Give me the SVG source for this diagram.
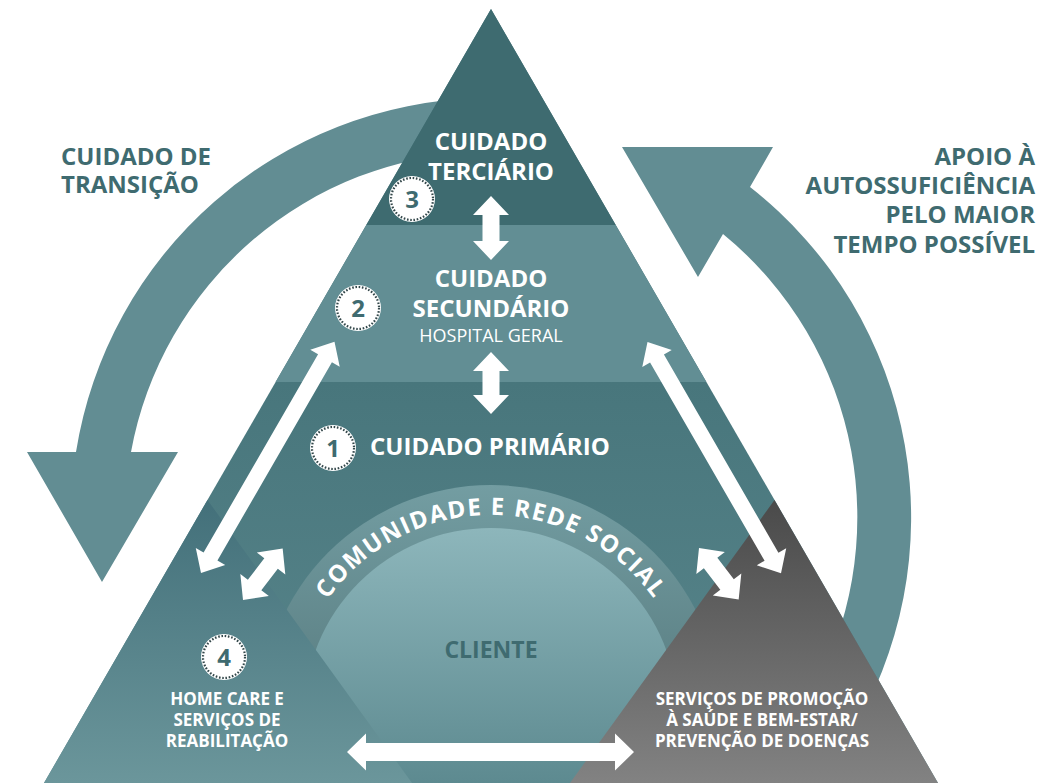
<svg xmlns="http://www.w3.org/2000/svg" width="1061" height="783" viewBox="0 0 1061 783">
<defs>
<style>
.lbl{font-family:"Open Sans","Liberation Sans",sans-serif;font-weight:700;}
.dark{fill:#3f6b70}
.wt{fill:#ffffff}
.big{font-size:24px}
.small{font-size:17px}
.cyc{fill:#628d93}
.wa{fill:#ffffff}
.num{font-family:"Open Sans","Liberation Sans",sans-serif;font-weight:700;font-size:24px;fill:#3f6b70;text-anchor:middle}
.mid{text-anchor:middle}
.end{text-anchor:end}
</style>
<linearGradient id="g1" gradientUnits="userSpaceOnUse" x1="0" y1="382" x2="0" y2="783">
<stop offset="0" stop-color="#48767c"/><stop offset="1" stop-color="#5a878d"/>
</linearGradient>
<linearGradient id="gHome" gradientUnits="userSpaceOnUse" x1="0" y1="500" x2="0" y2="783">
<stop offset="0" stop-color="#43707a"/><stop offset="1" stop-color="#6b969b"/>
</linearGradient>
<linearGradient id="gGray" gradientUnits="userSpaceOnUse" x1="0" y1="500" x2="0" y2="783">
<stop offset="0" stop-color="#4a4a4a"/><stop offset="1" stop-color="#828282"/>
</linearGradient>
<linearGradient id="gBand" gradientUnits="userSpaceOnUse" x1="0" y1="485" x2="0" y2="700">
<stop offset="0" stop-color="#739da2"/><stop offset="1" stop-color="#5a7e82"/>
</linearGradient>
<linearGradient id="gClient" gradientUnits="userSpaceOnUse" x1="0" y1="528" x2="0" y2="783">
<stop offset="0" stop-color="#8db6bb"/><stop offset="1" stop-color="#5d8a90"/>
</linearGradient>
<clipPath id="tri"><polygon points="491,9 44,783 938,783"/></clipPath>
<g id="badge"><circle r="23" fill="#ffffff"/><circle r="21" fill="none" stroke="#33474a" stroke-width="2.2" stroke-dasharray="1.6 1.7"/></g>
<path id="arcpath" d="M291,715 A200,200 0 0 1 691,715"/>
</defs>

<g id="cycle-arrows">
<path id="arrow-transition" class="cyc" d="M480,98 A420,420 0 0 0 76,452 L27,452 L102,582 L178,452 L131,452 A366,366 0 0 1 480,152 Z"/>
<path id="arrow-autonomy" class="cyc" d="M847.5,740 A420,420 0 0 0 750,187 L773,147 L622,147 L698,277 L723,234 A366,366 0 0 1 808.5,700 Z"/>
</g>

<g id="tier1">
<polygon points="491,9 44,783 938,783" fill="url(#g1)"/>
</g>
<g id="tier2">
<polygon points="366.3,225 615.7,225 706.4,382 275.6,382" fill="#628e94"/>
</g>
<g id="tier3">
<polygon points="491,9 615.7,225 366.3,225" fill="#3e6b70"/>
</g>

<g id="community" clip-path="url(#tri)">
<circle cx="491" cy="715" r="230" fill="url(#gBand)"/>
<text class="lbl wt" font-size="24" letter-spacing="1.5"><textPath href="#arcpath" startOffset="50%" text-anchor="middle">COMUNIDADE E REDE SOCIAL</textPath></text>
</g>
<g id="client" clip-path="url(#tri)">
<circle cx="491" cy="715" r="187" fill="url(#gClient)"/>
<text class="lbl dark mid" x="491" y="658" font-size="23">CLIENTE</text>
</g>

<g id="homecare">
<polygon points="207.5,500 44,783 412,783" fill="url(#gHome)"/>
<use href="#badge" x="224" y="657"/>
<text class="num" x="224" y="665.5">4</text>
<text class="lbl wt small mid" x="227" y="705">HOME CARE E</text>
<text class="lbl wt small mid" x="227" y="726">SERVIÇOS DE</text>
<text class="lbl wt small mid" x="227" y="747">REABILITAÇÃO</text>
</g>

<g id="promotion">
<polygon points="774.5,500 938,783 570,783" fill="url(#gGray)"/>
<text class="lbl wt small mid" x="762" y="705">SERVIÇOS DE PROMOÇÃO</text>
<text class="lbl wt small mid" x="762" y="726">À SAÚDE E BEM-ESTAR/</text>
<text class="lbl wt small mid" x="762" y="747">PREVENÇÃO DE DOENÇAS</text>
</g>

<g id="tertiary-label">
<text class="lbl wt big mid" x="491" y="150">CUIDADO</text>
<text class="lbl wt big mid" x="491" y="180">TERCIÁRIO</text>
<use href="#badge" x="412" y="199"/>
<text class="num" x="412" y="207.5">3</text>
</g>
<g id="secondary-label">
<text class="lbl wt big mid" x="491" y="287">CUIDADO</text>
<text class="lbl wt big mid" x="491" y="317">SECUNDÁRIO</text>
<text class="wt mid" x="491" y="342" font-family="'Open Sans','Liberation Sans',sans-serif" font-size="18">HOSPITAL GERAL</text>
<use href="#badge" x="358" y="308"/>
<text class="num" x="358" y="316.5">2</text>
</g>
<g id="primary-label">
<use href="#badge" x="333" y="448"/>
<text class="num" x="333" y="456.5">1</text>
<text class="lbl wt big" x="370" y="455">CUIDADO PRIMÁRIO</text>
</g>

<g id="label-transition">
<text class="lbl dark big" x="61" y="165">CUIDADO DE</text>
<text class="lbl dark big" x="61" y="193">TRANSIÇÃO</text>
</g>
<g id="label-autonomy">
<text class="lbl dark big end" x="1035" y="165">APOIO À</text>
<text class="lbl dark big end" x="1035" y="194">AUTOSSUFICIÊNCIA</text>
<text class="lbl dark big end" x="1035" y="223">PELO MAIOR</text>
<text class="lbl dark big end" x="1035" y="253">TEMPO POSSÍVEL</text>
</g>

<g id="connectors">
<path class="wa" transform="translate(491,196) rotate(90)" d="M0,0 L19,-18 L19,-8.5 L45,-8.5 L45,-18 L64,0 L45,18 L45,8.5 L19,8.5 L19,18 Z"/>
<path class="wa" transform="translate(491,352) rotate(90)" d="M0,0 L19,-18 L19,-8.5 L43,-8.5 L43,-18 L62,0 L43,18 L43,8.5 L19,8.5 L19,18 Z"/>
<path class="wa" transform="translate(201,573) rotate(-60)" d="M0,0 L19,-17 L19,-8 L248,-8 L248,-17 L267,0 L248,17 L248,8 L19,8 L19,17 Z"/>
<path class="wa" transform="translate(647.5,342) rotate(60)" d="M0,0 L19,-17 L19,-8 L248,-8 L248,-17 L267,0 L248,17 L248,8 L19,8 L19,17 Z"/>
<path class="wa" transform="translate(243,600) rotate(-52.4)" d="M0,0 L19,-18 L19,-8.5 L46,-8.5 L46,-18 L65,0 L46,18 L46,8.5 L19,8.5 L19,18 Z"/>
<path class="wa" transform="translate(699,548) rotate(52.4)" d="M0,0 L19,-18 L19,-8.5 L46,-8.5 L46,-18 L65,0 L46,18 L46,8.5 L19,8.5 L19,18 Z"/>
<path class="wa" transform="translate(347,752)" d="M0,0 L19,-18.5 L19,-9 L268,-9 L268,-18.5 L287,0 L268,18.5 L268,9 L19,9 L19,18.5 Z"/>
</g>
</svg>
